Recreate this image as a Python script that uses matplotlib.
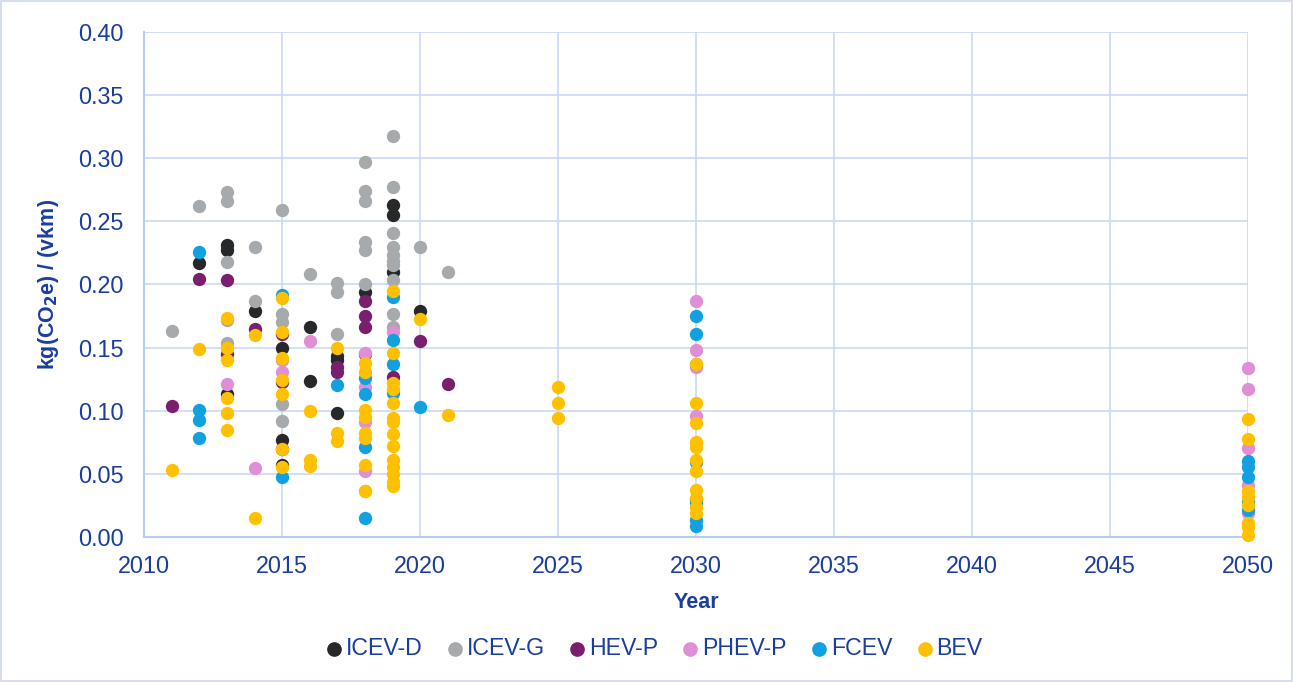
import matplotlib.pyplot as plt
from matplotlib.patches import Rectangle

plt.rcParams['font.family'] = ['Liberation Sans', 'DejaVu Sans']

TXT = '#1A3DA0'
GRID = '#C9D9F5'

# ICEV-D (diesel)
icevd_year = [2012, 2013, 2013, 2013, 2014, 2015, 2015, 2015, 2016, 2016, 2017, 2017, 2017,
              2018, 2019, 2019, 2019, 2020, 2030]
icevd_val = [0.217, 0.231, 0.227, 0.113, 0.179, 0.150, 0.077, 0.057, 0.1666, 0.1236, 0.143, 0.140, 0.098,
             0.194, 0.263, 0.255, 0.210, 0.179, 0.030]

# ICEV-G (gasoline)
icevg_year = [2011, 2012, 2013, 2013, 2013, 2013, 2013, 2014, 2014, 2015, 2015, 2015, 2015, 2015,
              2016, 2017, 2017, 2017, 2018, 2018, 2018, 2018, 2018, 2018,
              2019, 2019, 2019, 2019, 2019, 2019, 2019, 2019, 2019, 2019, 2020, 2021]
icevg_val = [0.163, 0.262, 0.2735, 0.266, 0.2176, 0.172, 0.154, 0.230, 0.187, 0.259, 0.177, 0.1705, 0.105, 0.092,
             0.208, 0.201, 0.194, 0.161, 0.297, 0.274, 0.266, 0.234, 0.227, 0.200,
             0.318, 0.2775, 0.2405, 0.230, 0.2234, 0.219, 0.2155, 0.2035, 0.177, 0.1666, 0.230, 0.210]

# HEV-P
hev_year = [2011, 2012, 2013, 2013, 2014, 2015, 2015, 2015, 2017, 2017, 2018, 2018, 2018, 2018,
            2019, 2020, 2021]
hev_val = [0.104, 0.204, 0.2035, 0.145, 0.165, 0.161, 0.123, 0.070, 0.135, 0.131, 0.187, 0.175, 0.166, 0.145,
           0.127, 0.155, 0.121]

# PHEV-P
phev_year = [2013, 2014, 2015, 2015, 2016, 2018, 2018, 2018, 2018, 2019, 2030, 2030, 2030, 2030,
             2050, 2050, 2050, 2050, 2050]
phev_val = [0.121, 0.055, 0.140, 0.131, 0.155, 0.146, 0.119, 0.091, 0.052, 0.1626, 0.187, 0.148, 0.135, 0.096,
            0.1336, 0.117, 0.0707, 0.041, 0.019]

# FCEV
fcev_year = [2012, 2012, 2012, 2012, 2015, 2015, 2017, 2018, 2018, 2018, 2018, 2019, 2019, 2019, 2019, 2020,
             2030, 2030, 2030, 2030, 2030, 2030, 2030, 2050, 2050, 2050, 2050, 2050]
fcev_val = [0.226, 0.1006, 0.0927, 0.078, 0.1917, 0.0478, 0.120, 0.1257, 0.113, 0.0715, 0.0148,
            0.190, 0.156, 0.137, 0.1138, 0.103,
            0.175, 0.161, 0.137, 0.0597, 0.0267, 0.0135, 0.009, 0.060, 0.0557, 0.0473, 0.028, 0.021]

# BEV
bev_year = [2011, 2012, 2013, 2013, 2013, 2013, 2013, 2013, 2014, 2014,
            2015, 2015, 2015, 2015, 2015, 2015, 2015, 2016, 2016, 2016, 2017, 2017, 2017,
            2018, 2018, 2018, 2018, 2018, 2018, 2018, 2018, 2018,
            2019, 2019, 2019, 2019, 2019, 2019, 2019, 2019, 2019, 2019, 2019, 2019, 2019, 2019,
            2020, 2021, 2025, 2025, 2025,
            2030, 2030, 2030, 2030, 2030, 2030, 2030, 2030, 2030, 2030, 2030,
            2050, 2050, 2050, 2050, 2050, 2050, 2050, 2050]
bev_val = [0.053, 0.149, 0.1737, 0.1494, 0.140, 0.110, 0.098, 0.0848, 0.160, 0.0148,
           0.189, 0.162, 0.1415, 0.124, 0.113, 0.0697, 0.0557, 0.100, 0.061, 0.056, 0.150, 0.082, 0.076,
           0.1375, 0.131, 0.1006, 0.095, 0.082, 0.078, 0.057, 0.0364, 0.0364,
           0.1948, 0.1455, 0.1217, 0.117, 0.1064, 0.0945, 0.091, 0.0816, 0.072, 0.061, 0.0557, 0.050, 0.0438, 0.040,
           0.173, 0.097, 0.119, 0.106, 0.094,
           0.1368, 0.106, 0.090, 0.0755, 0.0715, 0.061, 0.052, 0.037, 0.0306, 0.024, 0.0188,
           0.0935, 0.0776, 0.036, 0.032, 0.025, 0.011, 0.008, 0.0016]

series = [
    ('ICEV-D', icevd_year, icevd_val, '#262829'),
    ('ICEV-G', icevg_year, icevg_val, '#A6AAAD'),
    ('HEV-P', hev_year, hev_val, '#7A1F6E'),
    ('PHEV-P', phev_year, phev_val, '#DE8FD6'),
    ('FCEV', fcev_year, fcev_val, '#11A0E0'),
    ('BEV', bev_year, bev_val, '#FFC000'),
]

fig = plt.figure(figsize=(12.93, 6.82), dpi=100)
ax = fig.add_axes([0.1116, 0.2127, 0.8536, 0.7403])

for name, xs, ys, col in series:
    ax.scatter(xs, ys, s=92, color=col, label=name, zorder=3, linewidths=0, clip_on=False)

ax.set_xlim(2010, 2050)
ax.set_ylim(0, 0.40)
ax.set_xticks(range(2010, 2051, 5))
ax.set_yticks([i * 0.05 for i in range(9)])
ax.set_yticklabels([f'{i * 0.05:.2f}' for i in range(9)])
ax.grid(True, color=GRID, linewidth=1.2, zorder=0)
for side in ['top', 'right']:
    ax.spines[side].set_visible(False)
for side in ['left', 'bottom']:
    ax.spines[side].set_color('#B5CCF5')
    ax.spines[side].set_linewidth(1.5)
ax.tick_params(length=0, labelsize=16.8, colors=TXT)
ax.tick_params(axis='x', pad=13)
ax.tick_params(axis='y', pad=15)

ax.set_xlabel('Year', fontsize=15.5, fontweight='bold', color=TXT, labelpad=10)
ax.set_ylabel(r'kg(CO$_\mathbf{2}$e) / (vkm)', fontsize=15.5, fontweight='bold', color=TXT, labelpad=12)

leg = fig.legend(loc='center', bbox_to_anchor=(0.506, 0.049), ncol=6, frameon=False,
                 fontsize=16.7, handlelength=0.7, handletextpad=0.15, columnspacing=1.05,
                 markerscale=1.1)
for t in leg.get_texts():
    t.set_color(TXT)

fig.patches.append(Rectangle((0.001, 0.001), 0.998, 0.998, transform=fig.transFigure,
                             fill=False, edgecolor='#D0D8E8', linewidth=1.2))

fig.savefig('out.png', dpi=100)
